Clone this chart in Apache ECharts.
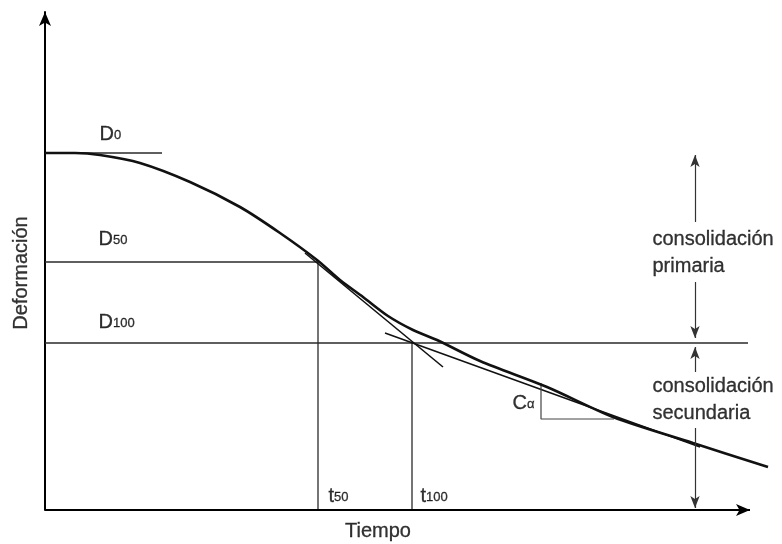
<!DOCTYPE html>
<html>
<head>
<meta charset="utf-8">
<script src="https://cdn.jsdelivr.net/npm/echarts@6/dist/echarts.min.js"></script>
<style>
  html, body { margin: 0; padding: 0; background: #fff; }
  #chart { width: 782px; height: 544px; }
</style>
</head>
<body>
<div id="chart"></div>
<script>
// curva de consolidación (unidades del dibujo)
const tiempo = [0, 30, 55, 95, 145, 195, 235, 272, 295, 318, 343, 368, 392, 435, 502, 568, 648, 723];
const deformacion = [357, 357, 355, 347, 328, 303, 277, 250, 230, 213, 194, 180, 170, 149, 123, 93, 67, 43];

// niveles y tiempos
const D0 = 357, D50 = 248, D100 = 167;
const T50 = 273, T100 = 367;

// tangentes
const tangentePrimaria = [[260, 257], [398, 143]];
const tangenteSecundaria = [[340, 177], [655, 63]];

// triángulo Cα
const caX = [496, 569];
const caY = [127, 91];

// flechas de la derecha
const flechaX = 650;
const flechas = [[288, 355], [228, 172], [138, 163], [82, 2]];

// largo del eje de tiempo
const ejeTiempo = 705;

const ink = '#000';
const font = "'Liberation Sans', Arial, sans-serif";

function seg(pts, width, color) {
  return {
    type: 'line', data: pts, showSymbol: false, silent: true, clip: false,
    lineStyle: { color: color || '#2a2a2a', width: width || 1.3 }
  };
}

function note(x, y, text, pos, rotate) {
  return {
    type: 'scatter', clip: false, silent: true, symbolSize: 1,
    itemStyle: { color: 'rgba(0,0,0,0)' },
    data: [[x, y]],
    label: {
      show: true, position: pos || 'right', distance: 0, rotate: rotate || 0,
      formatter: text, color: ink, fontFamily: font, fontSize: 20, lineHeight: 27,
      textBorderColor: ink, textBorderWidth: 0.3,
      align: pos === 'inside' ? 'center' : 'left',
      rich: {
        m: { fontSize: 20, lineHeight: 22, verticalAlign: 'bottom', fontFamily: font, color: ink, textBorderColor: ink, textBorderWidth: 0.3 },
        s: { fontSize: 13, lineHeight: 13, verticalAlign: 'bottom', padding: [0, 0, 2, 0], fontFamily: font, color: ink, textBorderColor: ink, textBorderWidth: 0.3 }
      }
    }
  };
}

const hidden = {
  axisTick: { show: false }, axisLabel: { show: false }, splitLine: { show: false }
};

const chart = echarts.init(document.getElementById('chart'));
chart.setOption({
  animation: false,
  backgroundColor: '#fff',
  grid: { left: 45, top: 12, width: 730, height: 498 },
  xAxis: Object.assign({ type: 'value', min: 0, max: 730, axisLine: { show: false } }, hidden),
  yAxis: Object.assign({
    type: 'value', min: 0, max: 498,
    axisLine: { show: true, symbol: ['none', 'arrow'], symbolSize: [9, 14], lineStyle: { color: ink, width: 2 } }
  }, hidden),
  series: [
    seg([[0, D0], [117, D0]]),
    seg([[0, D50], [T50, D50]]),
    seg([[0, D100], [703, D100]]),
    seg([[T50, 0], [T50, D50]]),
    seg([[T100, 0], [T100, D100]]),
    seg(tangentePrimaria, 1.6, '#111'),
    seg(tangenteSecundaria, 1.6, '#111'),
    seg([[caX[0], caY[0]], [caX[0], caY[1]], [caX[1], caY[1]]], 1.2, '#444'),
    {
      type: 'line', smooth: 0.3, showSymbol: false, silent: true, clip: false,
      data: tiempo.map((t, i) => [t, deformacion[i]]),
      lineStyle: { color: '#111', width: 2.6 }
    },
    {
      // eje de tiempo con flecha
      type: 'line', data: [], silent: true,
      markLine: {
        silent: true, symbol: ['none', 'arrow'], symbolSize: [9, 14],
        label: { show: false },
        lineStyle: { color: ink, width: 2, type: 'solid' },
        data: [[{ coord: [0, 0] }, { coord: [ejeTiempo, 0] }]]
      }
    },
    {
      type: 'line', data: [], silent: true,
      markLine: {
        silent: true, symbol: ['none', 'arrow'], symbolSize: [7, 12],
        label: { show: false },
        lineStyle: { color: '#333', width: 1.2, type: 'solid' },
        data: flechas.map(f => [{ coord: [flechaX, f[0]] }, { coord: [flechaX, f[1]] }])
      }
    },
    note(54, 377, '{m|D}{s|0}'),
    note(53, 272, '{m|D}{s|50}'),
    note(53, 189, '{m|D}{s|100}'),
    note(283, 15, '{m|t}{s|50}'),
    note(375, 15, '{m|t}{s|100}'),
    note(467, 108, '{m|C}{s|α}'),
    note(607, 257, 'consolidación\nprimaria'),
    note(607, 110, 'consolidación\nsecundaria'),
    note(333, -21, 'Tiempo', 'inside'),
    note(-24, 237, 'Deformación', 'inside', 90)
  ]
});
</script>
</body>
</html>
